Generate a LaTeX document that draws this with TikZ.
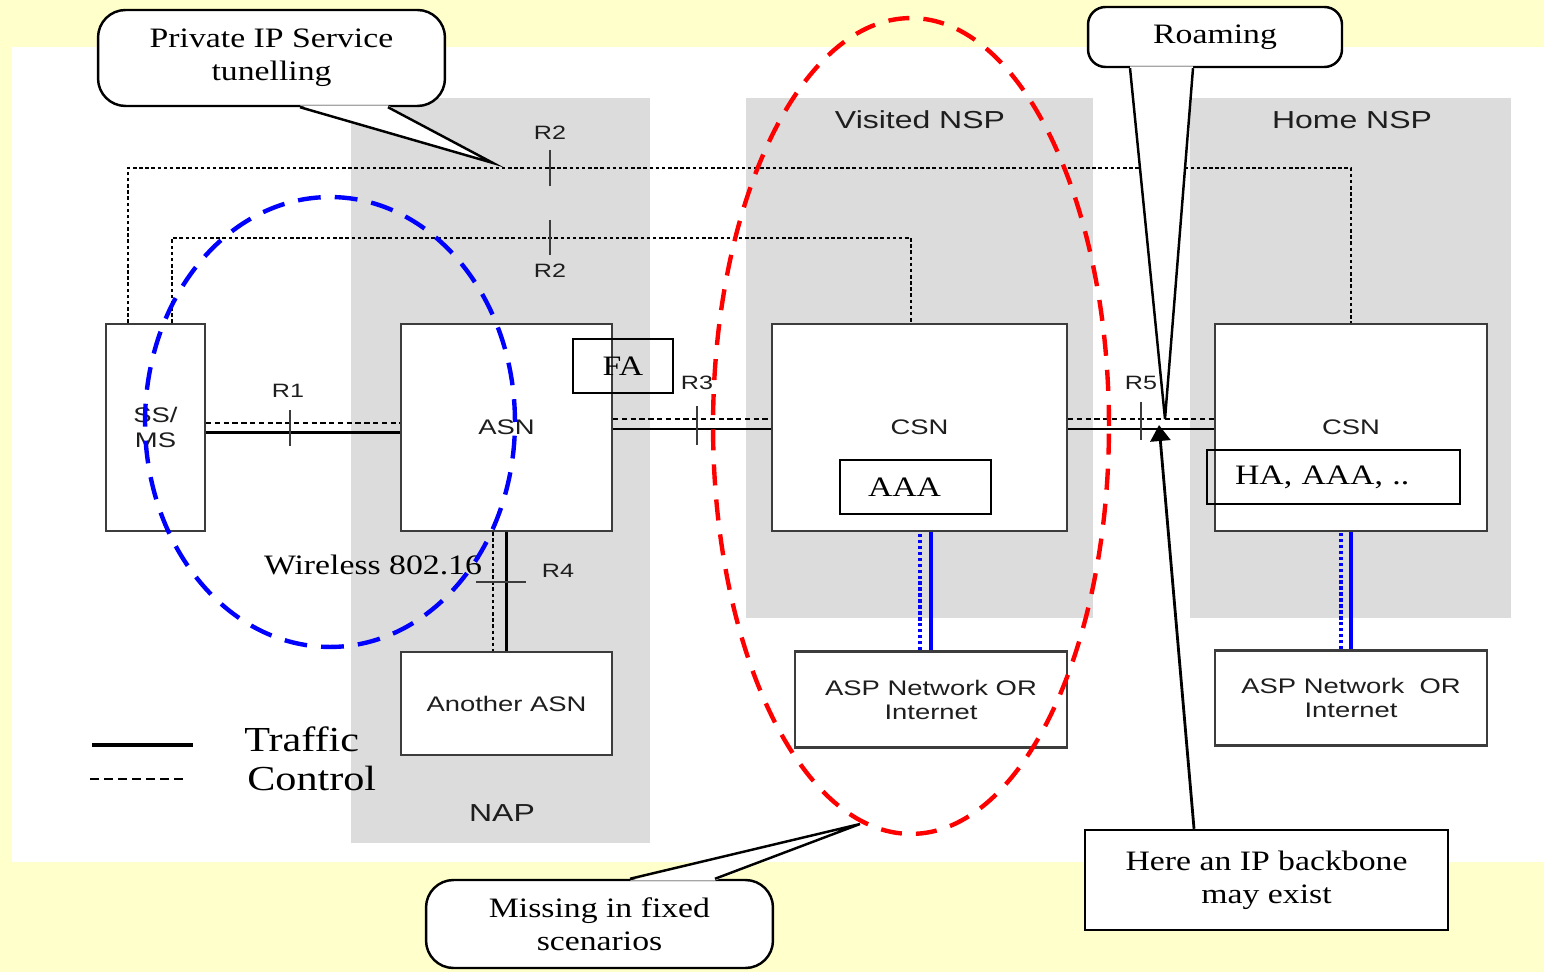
\documentclass[tikz,border=0pt]{standalone}
\usepackage{fontspec}
\setmainfont{Liberation Serif}[FakeStretch=1.2]
\setsansfont{Liberation Sans}[FakeStretch=1.3]
\usetikzlibrary{arrows.meta}

\definecolor{slidebg}{RGB}{255,255,204}
\definecolor{zonegray}{RGB}{220,220,220}
\definecolor{boxgray}{RGB}{60,60,60}
\definecolor{labelgray}{RGB}{30,30,30}

\begin{document}
\begin{tikzpicture}[x=0.02cm, y=-0.02cm,
  box/.style={draw=boxgray, line width=1.3pt, fill=white, text=labelgray, align=center, inner sep=0pt, font=\sffamily\fontsize{12}{13.7}\selectfont},
  inbox/.style={draw, line width=1.3pt, minimum height=1.08cm, inner ysep=0pt, font=\fontsize{16}{19}\selectfont},
  traffic/.style={line width=1.6pt},
  ctrl/.style={line width=1.2pt, dash pattern=on 3pt off 2pt},
  dots/.style={line width=1.5pt, dash pattern=on 2pt off 1.5pt},
  tick/.style={line width=0.8pt, draw=boxgray},
  rlbl/.style={text=labelgray, font=\sffamily\fontsize{11}{13}\selectfont},
  zonelbl/.style={text=labelgray, font=\sffamily\fontsize{14}{16}\selectfont},
  note/.style={font=\fontsize{16}{19}\selectfont, align=center},
  bubble/.style={note, draw, line width=1.4pt, fill=white, rounded corners=0.55cm, inner sep=0pt},
  tipline/.style={line width=1.4pt, line join=miter}]

% slide background and the three zones
\useasboundingbox (0,0) rectangle (1544,972);
\fill[slidebg] (0,0) rectangle (1544,972);
\fill[white] (12,47) rectangle (1544,862);
\fill[zonegray] (351,98) rectangle (650,843);
\fill[zonegray] (746,98) rectangle (1093,618);
\fill[zonegray] (1190,98) rectangle (1511,618);
\node[zonelbl] (vnsp) at (920,120) {Visited NSP};
\node[zonelbl] (hnsp) at (1352,120) {Home NSP};
\node[zonelbl] (nap) at (502,813) {NAP};

% entities
\node[box, minimum width=1.98cm, minimum height=4.14cm] (ss) at (155.5,427.5) {SS/\\MS};
\node[box, minimum width=4.22cm, minimum height=4.14cm] (asn) at (506.5,427.5) {ASN};
\node[box, minimum width=5.9cm, minimum height=4.14cm] (csnv) at (919.5,427.5) {CSN};
\node[box, minimum width=5.44cm, minimum height=4.14cm] (csnh) at (1351,427.5) {CSN};
\node[box, minimum width=4.22cm, minimum height=2.06cm] (another) at (506.5,703.5) {Another ASN};
\node[box, minimum width=5.44cm, minimum height=1.92cm] (aspv) at (931,699.5) {ASP Network OR\\Internet};
\node[box, minimum width=5.44cm, minimum height=1.9cm] (asph) at (1351,698) {ASP Network\ \ OR\\Internet};

\node[inbox, minimum width=2cm] (fa) at (623,366) {FA};
\node[inbox, inner xsep=0.56cm, text width=1.9cm, align=left] (aaa) at (915.5,487) {AAA};
\node[inbox, inner xsep=0.56cm, text width=3.94cm, align=left] (ha) at (1333.5,477) {HA, AAA, ..};

% R2 control paths
\coordinate (r2a) at (550,168);
\coordinate (r2b) at (550,238);
\draw[dots] ([xshift=-0.55cm]ss.north) |- (r2a) -| (csnh.north);
\draw[dots] ([xshift=0.33cm]ss.north) |- (r2b) -| ([xshift=-0.17cm]csnv.north);
\draw[tick] ([yshift=0.36cm]r2a) -- ([yshift=-0.36cm]r2a);
\draw[tick] ([yshift=0.35cm]r2b) -- ([yshift=-0.35cm]r2b);
\node[rlbl] (r2albl) at (550,133) {R2};
\node[rlbl] (r2blbl) at (550,271) {R2};

% R1
\coordinate (r1) at (290,428);
\draw[traffic] ([yshift=-2.8pt]ss.east) -- ([yshift=-2.8pt]asn.west);
\draw[ctrl] ([yshift=2.6pt]ss.east) -- ([yshift=2.6pt]asn.west);
\draw[tick] ([yshift=0.36cm]r1) -- ([yshift=-0.36cm]r1);
\node[rlbl] (r1lbl) at (288,391) {R1};

% R3
\coordinate (r3) at (697,425.5);
\draw[traffic] ([yshift=-0.9pt]asn.east) -- ([yshift=-0.9pt]csnv.west);
\draw[ctrl] ([yshift=4.7pt]asn.east) -- ([yshift=4.7pt]csnv.west);
\draw[tick] ([yshift=0.39cm]r3) -- ([yshift=-0.39cm]r3);
\node[rlbl] (r3lbl) at (697,383) {R3};

% R5
\coordinate (r5) at (1141,421);
\draw[traffic] ([yshift=-0.9pt]csnv.east) -- ([yshift=-0.9pt]csnh.west);
\draw[ctrl] ([yshift=5pt]csnv.east) -- ([yshift=5pt]csnh.west);
\draw[tick] ([yshift=0.39cm]r5) -- ([yshift=-0.39cm]r5);
\node[rlbl] (r5lbl) at (1141,383) {R5};

% R4
\coordinate (r4) at (501,582);
\draw[traffic, line width=2pt] (asn.south) -- (another.north);
\draw[dots] ([xshift=-0.27cm]asn.south) -- ([xshift=-0.27cm]another.north);
\draw[tick] ([xshift=-0.5cm]r4) -- ([xshift=0.5cm]r4);
\node[rlbl] (r4lbl) at (558,571) {R4};

% CSN to ASP
\draw[blue, line width=2pt] (aspv.north) -- (aspv.north |- csnv.south);
\draw[blue, line width=2pt, dash pattern=on 1.8pt off 1.6pt] ([xshift=-0.22cm]aspv.north) -- ([xshift=-0.22cm]aspv.north |- csnv.south);
\draw[blue, line width=2pt] (asph.north) -- (asph.north |- csnh.south);
\draw[blue, line width=2pt, dash pattern=on 1.8pt off 1.6pt] ([xshift=-0.2cm]asph.north) -- ([xshift=-0.2cm]asph.north |- csnh.south);

% legend
\coordinate (leg1a) at (92,745);
\coordinate (leg1b) at (193,745);
\coordinate (leg2a) at (90,779);
\coordinate (leg2b) at (183,779);
\draw[line width=2.8pt] (leg1a) -- (leg1b);
\draw[line width=0.8pt, dash pattern=on 5pt off 3pt] (leg2a) -- (leg2b);
\node[anchor=west, inner sep=0pt, font=\fontsize{20}{22}\selectfont] (traf) at (244,739) {Traffic};
\node[anchor=west, inner sep=0pt, font=\fontsize{20}{22}\selectfont] (ctl) at (247,778) {Control};

\node[note] (wl) at (373,565) {Wireless 802.16};

% scope ellipses
\draw[blue, line width=2.5pt, dash pattern=on 13pt off 8pt] (330,422) ellipse [x radius=3.7cm, y radius=4.5cm];
\draw[red, line width=2.5pt, dash pattern=on 12pt off 8pt] (911,426) ellipse [x radius=3.96cm, y radius=8.16cm];

% callouts
\node[bubble, minimum width=6.94cm, minimum height=1.92cm] (priv) at (271.5,58) {Private IP Service\\tunelling};
\coordinate (privtip) at (493,163);
\fill[white] ([xshift=0.57cm,yshift=1pt]priv.south) -- (privtip) -- ([xshift=2.33cm,yshift=1pt]priv.south) -- cycle;
\draw[tipline] ([xshift=0.57cm]priv.south) -- (privtip) -- ([xshift=2.33cm]priv.south);

\node[bubble, rounded corners=0.35cm, minimum width=5.08cm, minimum height=1.2cm] (roam) at (1215,37) {Roaming};
\coordinate (roamtip) at (1165,419);
\fill[white] ([xshift=-1.7cm,yshift=1pt]roam.south) -- (roamtip) -- ([xshift=-0.44cm,yshift=1pt]roam.south) -- cycle;
\draw[tipline] ([xshift=-1.7cm]roam.south) -- (roamtip) -- ([xshift=-0.44cm]roam.south);

\node[bubble, minimum width=6.94cm, minimum height=1.76cm] (miss) at (599.5,924) {Missing in fixed\\scenarios};
\coordinate (misstip) at (860,824);
\fill[white] ([xshift=0.61cm,yshift=-1pt]miss.north) -- (misstip) -- ([xshift=2.31cm,yshift=-1pt]miss.north) -- cycle;
\draw[tipline] ([xshift=0.61cm]miss.north) -- (misstip) -- ([xshift=2.31cm]miss.north);

\node[note, draw, line width=1.4pt, fill=white, minimum width=7.26cm, minimum height=2cm] (backbone) at (1266.5,880) {Here an IP backbone\\may exist};
\coordinate (bbtip) at (1159,425);
\draw[line width=1.6pt, -{Triangle[length=0.32cm, width=0.4cm]}] ([xshift=-1.45cm]backbone.north) -- (bbtip);

\end{tikzpicture}
\end{document}
